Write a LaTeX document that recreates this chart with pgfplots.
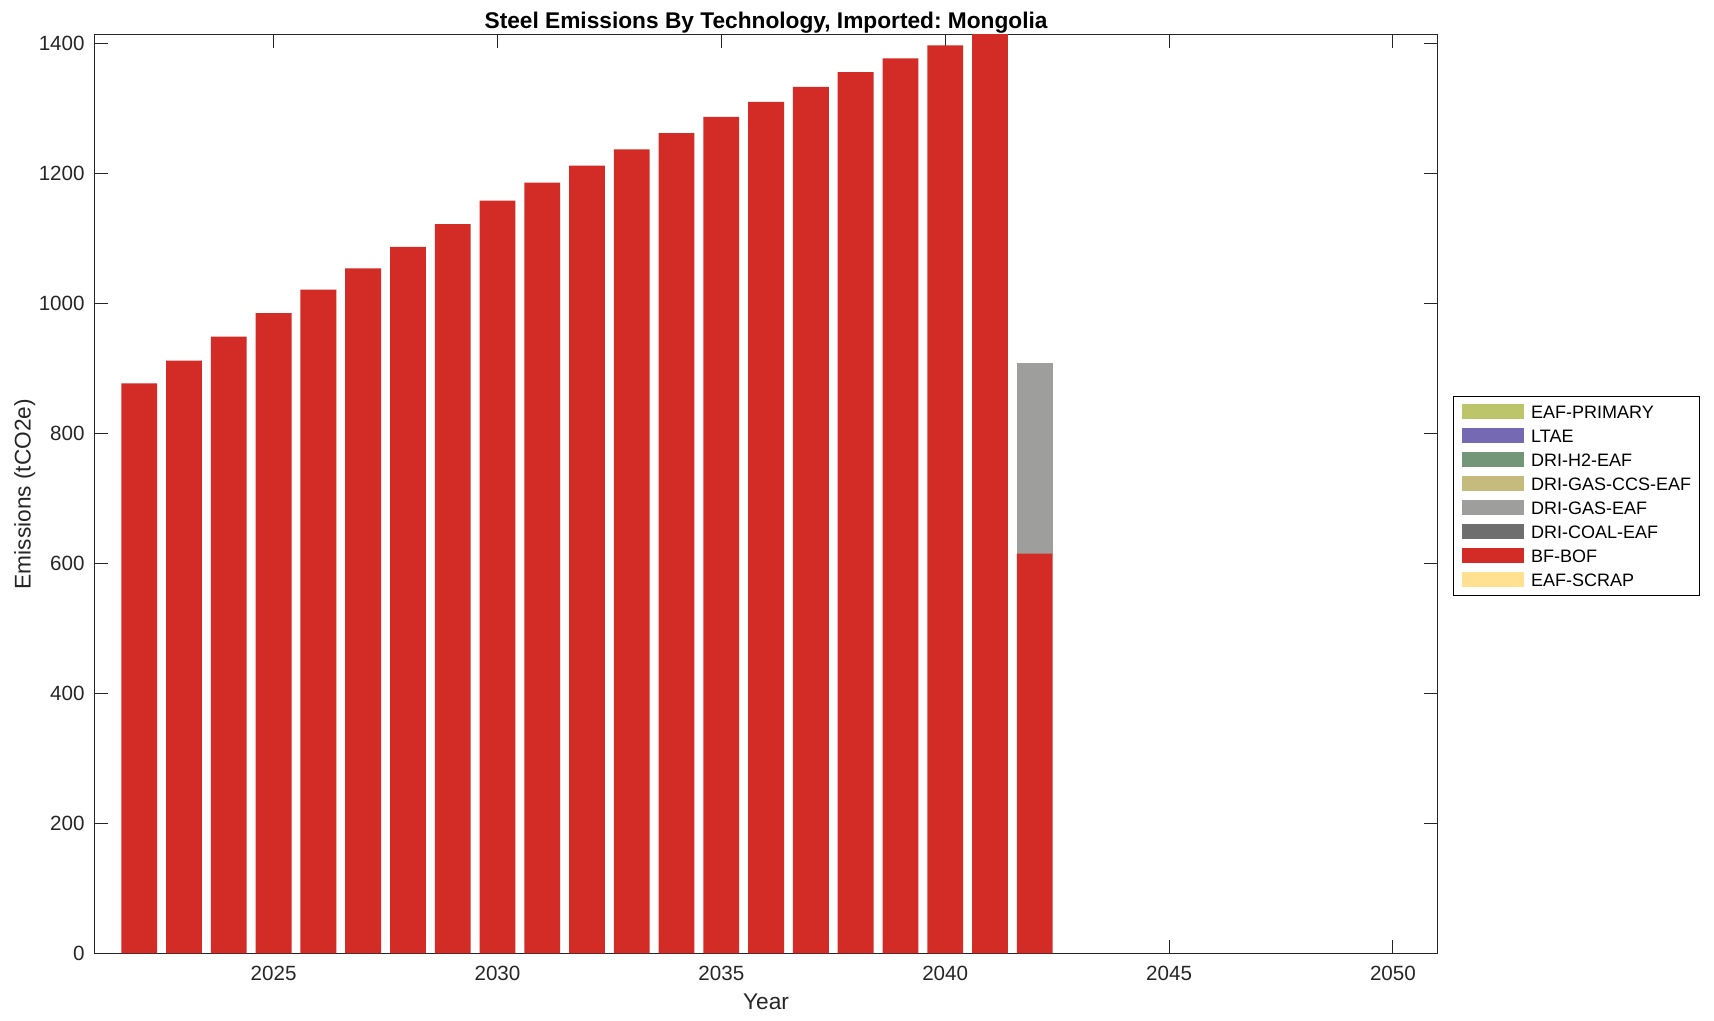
\documentclass[border=0pt]{standalone}
\usepackage{fontspec}
\setmainfont{Liberation Sans}
\usepackage{pgfplots}
\pgfplotsset{compat=1.18}
\frenchspacing
\definecolor{axcol}{RGB}{38,38,38}
\definecolor{cPrimary}{RGB}{189,197,106}
\definecolor{cLTAE}{RGB}{117,105,180}
\definecolor{cH2}{RGB}{115,150,120}
\definecolor{cCCS}{RGB}{196,187,124}
\definecolor{cGas}{RGB}{158,158,156}
\definecolor{cCoal}{RGB}{110,110,110}
\definecolor{cBFBOF}{RGB}{211,43,37}
\definecolor{cScrap}{RGB}{255,225,145}
\begin{document}
\frenchspacing
\begin{tikzpicture}
\path[use as bounding box] (-47.25pt,-33.85pt) rectangle (809.75pt,476.65pt);
\begin{axis}[
  at={(0pt,0pt)}, anchor=south west,
  scale only axis, width=671.6pt, height=459.15pt,
  xmin=2021, xmax=2051, ymin=0, ymax=1413,
  ybar stacked, bar width=0.8,
  xtick={2025,2030,2035,2040,2045,2050},
  ytick={0,200,400,600,800,1000,1200,1400},
  tick align=inside, major tick length=6.7pt,
  axis line style={axcol, line width=0.5pt},
  every tick/.style={axcol, line width=0.5pt},
  /pgf/number format/assume math mode=true,
  /pgf/number format/1000 sep={},
  tick label style={font=\fontsize{10.3}{12}\selectfont, text=axcol},
  xticklabel style={anchor=base, inner sep=0pt, yshift=-13.85pt},
  yticklabel style={anchor=east, inner sep=0pt, xshift=-4.75pt},
  xlabel={Year},
  xlabel style={at={(axis description cs:0.5,0)}, anchor=base, yshift=-28.3pt, inner sep=0pt, font=\fontsize{11.35}{13}\selectfont, text=axcol},
  ylabel={Emissions (tCO2e)},
  ylabel style={at={(axis description cs:-0.0475,0.5)}, anchor=base, inner sep=0pt, font=\fontsize{11.35}{13}\selectfont, text=axcol},
  title={\frenchspacing Steel Emissions By Technology, Imported: Mongolia},
  every axis title shift=0pt,
  title style={at={(axis description cs:0.5,1)}, anchor=base, yshift=3.35pt, inner sep=0pt, font=\bfseries\fontsize{11.35}{13}\selectfont},
  legend image code/.code={\fill[#1, draw=none] (0pt,-3.75pt) rectangle (31pt,3.75pt);},
  legend cell align=left,
  legend style={at={(axis description cs:1.01161,0.6072)}, anchor=north west,
    draw=black, line width=0.5pt, fill=white,
    font=\fontsize{9}{10}\selectfont,
    inner xsep=4.2pt, inner ysep=3.9pt, row sep=4.4pt,
    nodes={inner sep=0pt, text height=7pt, text depth=0.6pt, anchor=west},
    /tikz/every odd column/.append style={column sep=3.5pt}},
]
% BF-BOF
\addplot[forget plot, fill=cBFBOF, draw=none] coordinates {
 (2022,877) (2023,912) (2024,949) (2025,985) (2026,1021) (2027,1054)
 (2028,1087) (2029,1122) (2030,1158) (2031,1186) (2032,1212) (2033,1237)
 (2034,1262) (2035,1287) (2036,1310) (2037,1333) (2038,1356) (2039,1377)
 (2040,1397) (2041,1418) (2042,615)
};
% DRI-GAS-EAF
\addplot[forget plot, fill=cGas, draw=none] coordinates {
 (2022,0) (2023,0) (2024,0) (2025,0) (2026,0) (2027,0)
 (2028,0) (2029,0) (2030,0) (2031,0) (2032,0) (2033,0)
 (2034,0) (2035,0) (2036,0) (2037,0) (2038,0) (2039,0)
 (2040,0) (2041,0) (2042,293)
};
\addlegendimage{fill=cPrimary}\addlegendentry{EAF-PRIMARY}
\addlegendimage{fill=cLTAE}\addlegendentry{LTAE}
\addlegendimage{fill=cH2}\addlegendentry{DRI-H2-EAF}
\addlegendimage{fill=cCCS}\addlegendentry{DRI-GAS-CCS-EAF}
\addlegendimage{fill=cGas}\addlegendentry{DRI-GAS-EAF}
\addlegendimage{fill=cCoal}\addlegendentry{DRI-COAL-EAF}
\addlegendimage{fill=cBFBOF}\addlegendentry{BF-BOF}
\addlegendimage{fill=cScrap}\addlegendentry{EAF-SCRAP}
\end{axis}
\end{tikzpicture}
\end{document}
